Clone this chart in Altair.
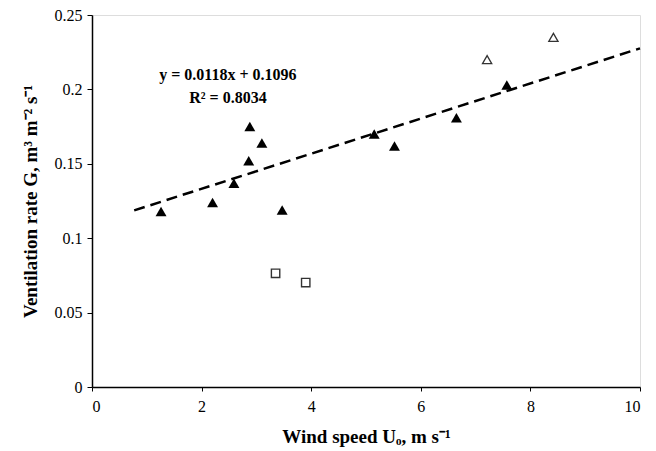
import altair as alt
import pandas as pd

# Filled triangles (main data set)
filled_x = [1.26, 2.20, 2.59, 2.86, 2.88, 3.10, 3.47, 5.15, 5.52, 6.65, 7.57]
filled_y = [0.118, 0.124, 0.137, 0.152, 0.175, 0.164, 0.119, 0.170, 0.162, 0.181, 0.203]
# Open triangles
open_tri_x = [7.21, 8.42]
open_tri_y = [0.220, 0.235]
# Open squares
square_x = [3.35, 3.90]
square_y = [0.0764, 0.0702]
# Regression line end points (y = 0.0118x + 0.1096)
line_x = [0.77, 10.0]
line_y = [0.1187, 0.2276]
# Annotation
ann_text = ["y = 0.0118x + 0.1096", "R\u00b2 = 0.8034"]
ann_x = [2.48, 2.48]
ann_y = [0.210, 0.1945]

FONT = "Liberation Serif"

xscale = alt.Scale(domain=[0, 10], nice=False, zero=True)
yscale = alt.Scale(domain=[0, 0.25], nice=False, zero=True)

xaxis = alt.Axis(
    title="Wind speed U\u2092, m s\u207b\u00b9",
    values=[0, 2, 4, 6, 8, 10],
    grid=False, domainColor="black", domainWidth=1.5,
    tickColor="black", tickSize=4, labelPadding=7,
    labelFont=FONT, labelFontSize=16, labelColor="black",
    titleFont=FONT, titleFontSize=19, titleFontWeight="bold", titleColor="black",
    titlePadding=13,
)
yaxis = alt.Axis(
    title="Ventilation rate G, m\u00b3 m\u207b\u00b2 s\u207b\u00b9",
    values=[0, 0.05, 0.1, 0.15, 0.2, 0.25], format="~g",
    grid=False, domainColor="black", domainWidth=1.5,
    tickColor="black", tickSize=5, labelPadding=5,
    labelFont=FONT, labelFontSize=16, labelColor="black",
    titleFont=FONT, titleFontSize=19, titleFontWeight="bold", titleColor="black",
    titlePadding=14,
)

df_f = pd.DataFrame({"x": filled_x, "y": filled_y})
df_t = pd.DataFrame({"x": open_tri_x, "y": open_tri_y})
df_s = pd.DataFrame({"x": square_x, "y": square_y})
df_l = pd.DataFrame({"x": line_x, "y": line_y})
df_a = pd.DataFrame({"x": ann_x, "y": ann_y, "t": ann_text})

line = alt.Chart(df_l).mark_line(color="black", strokeWidth=2.5, strokeDash=[11, 6]).encode(
    x=alt.X("x:Q", scale=xscale, axis=xaxis),
    y=alt.Y("y:Q", scale=yscale, axis=yaxis),
)
filled = alt.Chart(df_f).mark_point(shape="triangle-up", filled=True, color="black", size=120, opacity=1).encode(
    x="x:Q", y="y:Q"
)
open_t = alt.Chart(df_t).mark_point(shape="triangle-up", filled=False, color="#333333", size=85, strokeWidth=1.3, opacity=1).encode(
    x="x:Q", y="y:Q"
)
squares = alt.Chart(df_s).mark_point(shape="square", filled=False, color="#333333", size=70, strokeWidth=1.4, opacity=1).encode(
    x="x:Q", y="y:Q"
)
ann = alt.Chart(df_a).mark_text(font=FONT, fontSize=16, fontWeight="bold", color="black", align="center", baseline="middle").encode(
    x="x:Q", y="y:Q", text="t:N"
)

chart = alt.layer(line, filled, open_t, squares, ann).properties(
    width=548, height=372,
    autosize=alt.AutoSizeParams(type="none"),
    padding={"left": 84, "top": 7, "right": 8, "bottom": 64},
).configure_view(stroke="black", strokeWidth=1.2).configure(background="white")

chart.save("out.html", embed_options={"renderer": "svg", "actions": False})
